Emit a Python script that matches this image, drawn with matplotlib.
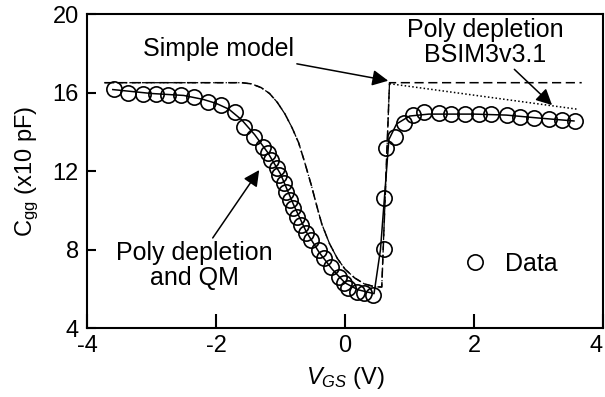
import numpy as np
import matplotlib
matplotlib.use("Agg")
import matplotlib.pyplot as plt

plt.rcParams['font.family'] = ['Liberation Sans', 'DejaVu Sans']
plt.rcParams['mathtext.fontset'] = 'custom'
plt.rcParams['mathtext.it'] = 'Liberation Sans:italic'
plt.rcParams['mathtext.rm'] = 'Liberation Sans'
plt.rcParams['axes.unicode_minus'] = False

# measured Cgg (x10 pF) vs VGS (V)
vgs_data = [-3.58, -3.36, -3.13, -2.93, -2.74, -2.54, -2.34, -2.12, -1.92, -1.71,
            -1.56, -1.41, -1.27, -1.19, -1.14, -1.06, -1.02, -0.95, -0.91, -0.86,
            -0.80, -0.75, -0.68, -0.60, -0.52, -0.41, -0.32, -0.21, -0.10, -0.01,
            0.05, 0.18, 0.30, 0.44, 0.60, 0.60, 0.64, 0.77, 0.91, 1.06,
            1.23, 1.45, 1.65, 1.86, 2.07, 2.27, 2.51, 2.71, 2.93, 3.16, 3.36, 3.56]
cgg_data = [16.18, 15.97, 15.92, 15.92, 15.87, 15.87, 15.77, 15.52, 15.36, 15.01,
            14.24, 13.73, 13.22, 12.92, 12.56, 12.15, 11.80, 11.39, 10.93, 10.52,
            10.11, 9.66, 9.25, 8.84, 8.48, 7.97, 7.57, 7.11, 6.60, 6.29,
            6.04, 5.83, 5.78, 5.68, 8.03, 10.62, 13.17, 13.73, 14.45, 14.85,
            15.01, 14.96, 14.90, 14.90, 14.90, 14.90, 14.85, 14.75, 14.70, 14.65, 14.60, 14.55]

# poly depletion + QM model
vgs_qm = [-3.6, -3.0, -2.5, -2.2, -2.0, -1.8, -1.6, -1.4, -1.2, -1.0, -0.8, -0.6,
          -0.4, -0.2, 0.0, 0.2, 0.45, 0.55, 0.62, 0.68, 0.8, 1.0, 1.3, 2.0, 2.5, 3.0, 3.55]
cgg_qm = [16.15, 15.95, 15.85, 15.65, 15.45, 15.15, 14.6, 13.85, 12.95, 11.85, 10.3, 8.9,
          7.85, 7.0, 6.3, 5.95, 5.75, 8.0, 11.0, 13.6, 14.4, 14.8, 14.9, 14.9, 14.85, 14.7, 14.55]

# simple model
vgs_simple = [-3.73, -1.6, -1.45, -1.3, -1.17, -1.05, -0.93, -0.82, -0.72, -0.63,
              -0.52, -0.44, -0.36, -0.24, -0.12, 0.0, 0.15, 0.3, 0.46, 0.57, 0.69, 3.67]
cgg_simple = [16.5, 16.5, 16.44, 16.25, 15.95, 15.5, 14.9, 14.2, 13.45, 12.5,
              11.25, 10.25, 9.3, 8.3, 7.55, 7.0, 6.55, 6.25, 6.1, 6.09, 16.5, 16.5]

# poly depletion BSIM3v3.1 above threshold
vgs_bsim = [0.69, 3.6]
cgg_bsim = [16.45, 15.15]

fig = plt.figure(figsize=(6.05, 3.97), dpi=100)
ax = fig.add_axes([0.1438, 0.1738, 0.8529, 0.7909])

ax.plot(vgs_simple, cgg_simple, color='black', lw=1.1, dashes=(6, 3))
ax.plot(vgs_simple[:-1], cgg_simple[:-1], color='black', lw=0.9, linestyle=(0, (5, 2, 1, 2)))
ax.plot(vgs_bsim, cgg_bsim, color='black', lw=1.1, linestyle=(0, (1, 1.5)))
ax.plot(vgs_qm, cgg_qm, color='black', lw=1.1)
ax.plot(vgs_data, cgg_data, 'o', mfc='none', mec='black', mew=1.2, ms=11, label='Data')

ax.set_xlim(-4, 4)
ax.set_ylim(4, 20)
ax.set_xticks([-4, -2, 0, 2, 4])
ax.set_yticks([4, 8, 12, 16, 20])
ax.tick_params(axis='x', direction='in', length=10, width=1.5, labelsize=17, pad=5)
ax.tick_params(axis='y', direction='in', length=6.5, width=1.5, labelsize=17, pad=6)
ax.tick_params(top=False, right=False)
for s in ax.spines.values():
    s.set_linewidth(1.5)
# keep the last x label inside the figure edge
ax.get_xticklabels()[-1].set_horizontalalignment('right')

ax.set_xlabel('$V_{GS}$ (V)', fontsize=17, labelpad=6)
ax.set_ylabel('C$_{\\rm gg}$ (x10 pF)', fontsize=17, labelpad=8)

arrow = dict(arrowstyle='-|>', color='black', lw=1.1, mutation_scale=24, shrinkA=0, shrinkB=0)
ax.annotate('Simple model', xy=(0.67, 16.6), xytext=(-1.96, 18.2), fontsize=18,
            ha='center', va='center', arrowprops=arrow)
ax.annotate('Poly depletion\nBSIM3v3.1', xy=(3.21, 15.36), xytext=(2.18, 18.57), fontsize=18,
            ha='center', va='center', linespacing=1.05, arrowprops=arrow)
ax.annotate('Poly depletion\nand QM', xy=(-1.33, 12.05), xytext=(-2.34, 7.2), fontsize=18,
            ha='center', va='center', linespacing=1.05, arrowprops=arrow)

ax.legend(loc='center left', bbox_to_anchor=(0.685, 0.205), frameon=False, fontsize=18,
          handlelength=1.0, handletextpad=0.7, numpoints=1)

fig.savefig('out.png', dpi=100)
